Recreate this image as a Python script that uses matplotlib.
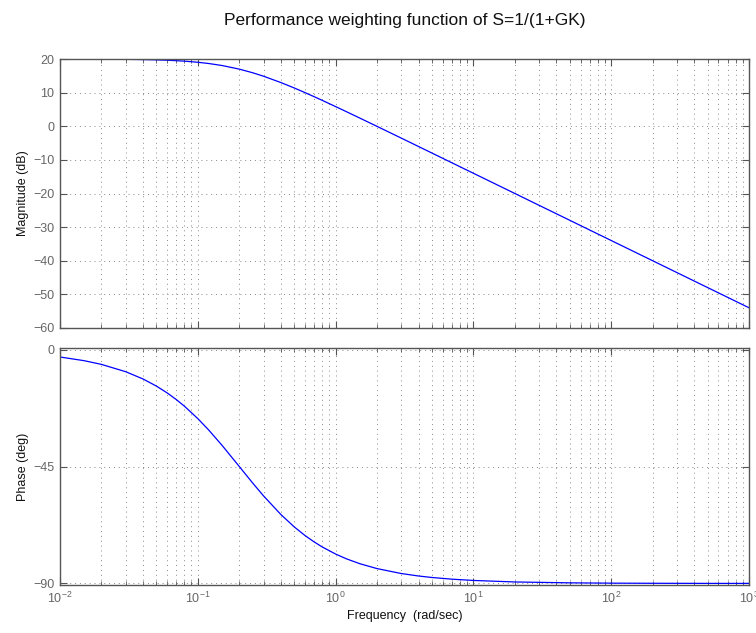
import matplotlib
matplotlib.use("Agg")
import matplotlib.pyplot as plt
from matplotlib.ticker import LogLocator, NullFormatter, FixedLocator

plt.rcParams['font.family'] = ['Liberation Sans', 'DejaVu Sans']
plt.rcParams['mathtext.fontset'] = 'custom'
plt.rcParams['mathtext.rm'] = 'Liberation Sans'
plt.rcParams['mathtext.it'] = 'Liberation Sans'

# Frequency response samples of the weighting function
freq = [0.01, 0.015, 0.02, 0.03, 0.04, 0.05, 0.06, 0.07, 0.08, 0.1, 0.12,
        0.15, 0.2, 0.25, 0.3, 0.4, 0.5, 0.6, 0.7, 0.8, 1.0, 1.2, 1.5, 2.0,
        3.0, 4.0, 5.0, 7.0, 10.0, 20.0, 50.0, 100.0, 200.0, 500.0, 1000.0]
mag_db = [19.99, 19.98, 19.96, 19.90, 19.83, 19.74, 19.63, 19.50, 19.36,
          19.03, 18.66, 18.06, 16.99, 15.91, 14.88, 13.01, 11.40, 10.00,
          8.78, 7.70, 5.85, 4.32, 2.42, -0.04, -3.54, -6.03, -7.97, -10.89,
          -13.98, -20.00, -27.96, -33.98, -40.00, -47.96, -53.98]
phase_deg = [-2.86, -4.29, -5.71, -8.53, -11.31, -14.04, -16.70, -19.29,
             -21.80, -26.57, -30.96, -36.87, -45.00, -51.34, -56.31, -63.43,
             -68.20, -71.57, -74.05, -75.96, -78.69, -80.54, -82.41, -84.29,
             -86.19, -87.14, -87.71, -88.36, -88.85, -89.43, -89.77, -89.89,
             -89.94, -89.98, -89.99]

mag_ticks = [-60, -50, -40, -30, -20, -10, 0, 10, 20]
phase_ticks = [-90, -45, 0]
title = "Performance weighting function of S=1/(1+GK)"

fig = plt.figure(figsize=(7.56, 6.33), dpi=100)
W, H = 756, 633
left, right = 60, 749
ax1 = fig.add_axes([left / W, 1 - 328 / H, (right - left) / W, (328 - 59) / H])
ax2 = fig.add_axes([left / W, 1 - 585 / H, (right - left) / W, (585 - 348) / H])

frame_col = '#555555'
grid_col = '#888888'

for ax in (ax1, ax2):
    ax.set_xscale('log')
    ax.set_xlim(1e-2, 1e3)
    ax.xaxis.set_major_locator(LogLocator(base=10, numticks=10))
    ax.xaxis.set_minor_locator(LogLocator(base=10, subs=range(2, 10), numticks=20))
    ax.xaxis.set_minor_formatter(NullFormatter())
    ax.tick_params(which='both', direction='in', top=True, right=True,
                   colors=frame_col, labelsize=9, labelcolor='#666666')
    ax.tick_params(which='major', length=5, width=0.8, pad=4)
    ax.tick_params(which='minor', length=3, width=0.6)
    ax.grid(True, which='major', axis='both', linestyle=(0, (1, 4)),
            color=grid_col, linewidth=0.7)
    ax.grid(True, which='minor', axis='x', linestyle=(0, (1, 4)),
            color=grid_col, linewidth=0.7)
    for s in ax.spines.values():
        s.set_color(frame_col)
        s.set_linewidth(1.0)

ax1.plot(freq, mag_db, color='#0000ff', linewidth=0.9)
ax1.set_ylim(-60, 20)
ax1.yaxis.set_major_locator(FixedLocator(mag_ticks))
ax1.tick_params(axis='x', which='both', labelbottom=False)
ax1.set_ylabel('Magnitude (dB)', fontsize=9, color='#111111', labelpad=3)

ax2.plot(freq, phase_deg, color='#0000ff', linewidth=0.9)
ax2.set_ylim(-90.6, 0.6)
ax2.yaxis.set_major_locator(FixedLocator(phase_ticks))
ax2.set_ylabel('Phase (deg)', fontsize=9, color='#111111', labelpad=3)
ax2.set_xlabel('Frequency  (rad/sec)', fontsize=9, color='#111111', labelpad=3)

fig.text((left + right) / 2 / W, 1 - 20 / H, title, ha='center', va='center',
         fontsize=12.5, color='#111111')

fig.savefig('out.png', dpi=100)
